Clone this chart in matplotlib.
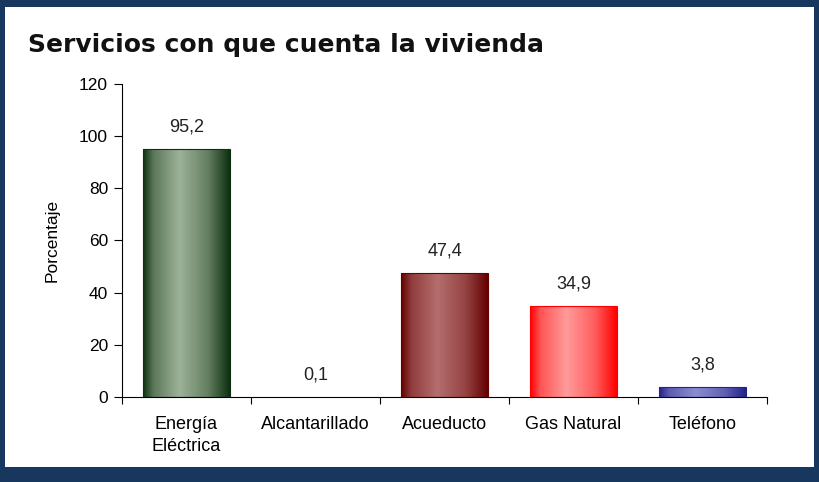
import numpy as np
import matplotlib
matplotlib.use("Agg")
import matplotlib.pyplot as plt
from matplotlib.colors import LinearSegmentedColormap
from matplotlib.patches import Rectangle

categories = ["Energía\nEléctrica", "Alcantarillado", "Acueducto", "Gas Natural", "Teléfono"]
values = [95.2, 0.1, 47.4, 34.9, 3.8]
value_labels = ["95,2", "0,1", "47,4", "34,9", "3,8"]
y_ticks = [0, 20, 40, 60, 80, 100, 120]

# (edge / dark colour, highlight colour) per bar
bar_shades = [
    ("#0d3010", "#9db298"),
    ("#7a7a7a", "#d0d0d0"),
    ("#650000", "#b46e6e"),
    ("#ff0000", "#ff9a9a"),
    ("#23238a", "#8c8cd2"),
]

plt.rcParams["font.family"] = ["Liberation Sans", "DejaVu Sans"]

fig = plt.figure(figsize=(8.19, 4.82), dpi=100, facecolor="#17375e")
fig.patches.append(Rectangle((5 / 819, 1 - 467 / 482), 809 / 819, 460 / 482,
                             transform=fig.transFigure, facecolor="white",
                             edgecolor="none", zorder=-5))

ax = fig.add_axes([122 / 819, 1 - 397 / 482, 645 / 819, 313 / 482])
ax.set_facecolor("none")

x = np.arange(len(categories))
width = 0.67
bars = ax.bar(x, values, width=width, color="none", edgecolor="none", zorder=2)

grad = np.linspace(0, 1, 256)
# dark edges, bright band a bit left of centre
prof = np.interp(grad, [0, 0.12, 0.42, 0.75, 1], [0.0, 0.55, 1.0, 0.6, 0.0])
for bar, (dark, light) in zip(bars, bar_shades):
    cmap = LinearSegmentedColormap.from_list("b", [dark, light])
    x0, h = bar.get_x(), bar.get_height()
    if h <= 0.2:
        continue
    im = ax.imshow(prof[np.newaxis, :], cmap=cmap, vmin=0, vmax=1, aspect="auto",
                   extent=[x0, x0 + bar.get_width(), 0, h], zorder=2,
                   interpolation="bicubic")
    im.set_clip_path(bar)
    ax.add_patch(Rectangle((x0, 0), bar.get_width(), h, facecolor="none",
                           edgecolor=dark, linewidth=0.8, zorder=3))

for xi, v, lab in zip(x, values, value_labels):
    ax.text(xi, v + 8.5, lab, ha="center", va="center", fontsize=13, color="#222222")

ax.set_xlim(-0.5, len(categories) - 0.5)
ax.set_ylim(0, 120)
ax.set_yticks(y_ticks)
ax.tick_params(axis="y", labelsize=12.5, length=6, width=0.8, pad=4)

ax.set_xticks(np.arange(len(categories) + 1) - 0.5)
ax.set_xticklabels([])
ax.set_xticks(x, minor=True)
ax.set_xticklabels(categories, minor=True, fontsize=13, linespacing=1.35)
ax.tick_params(axis="x", which="major", length=5, width=0.8)
ax.tick_params(axis="x", which="minor", length=0, pad=14)

for s in ["top", "right"]:
    ax.spines[s].set_visible(False)
for s in ["left", "bottom"]:
    ax.spines[s].set_linewidth(0.8)

ax.set_ylabel("Porcentaje", fontsize=12.5, labelpad=14)

fig.text(28 / 819, 1 - 45 / 482, "Servicios con que cuenta la vivienda",
         fontsize=18, fontweight="bold", family="DejaVu Sans", va="center",
         color="#111111")

fig.savefig("out.png", dpi=100, facecolor=fig.get_facecolor())
